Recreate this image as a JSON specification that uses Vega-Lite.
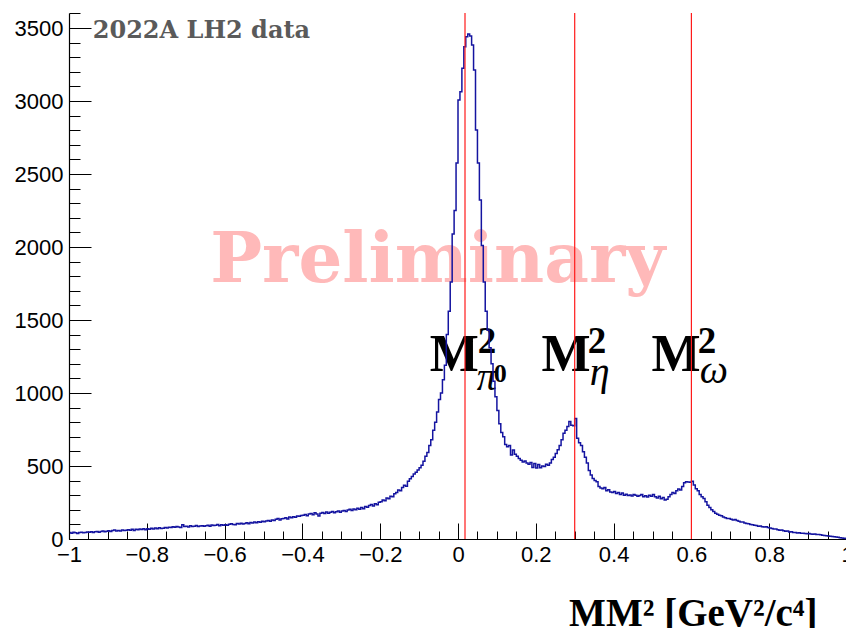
{
"$schema": "https://vega.github.io/schema/vega-lite/v6.json",
"width": 778, "height": 526,
"autosize": "none",
"padding": {"left": 69, "top": 13, "right": 0, "bottom": 89},
"background": "white",
"config": {"view": {"stroke": null}, "axis": {"grid": false}},
"resolve": {"axis": {"x": "independent", "y": "independent"}},
"layer": [
{
"data": {"values": [{"t": "Preliminary", "x": -0.052, "y": 1760}]},
"mark": {"type": "text", "font": "DejaVu Serif", "fontWeight": "bold", "fontSize": 69, "fill": "#ffb9b9", "align": "center", "baseline": "alphabetic"},
"encoding": {
"x": {"field": "x", "type": "quantitative", "scale": {"domain": [-1, 1], "nice": false, "zero": false}, "axis": null},
"y": {"field": "y", "type": "quantitative", "scale": {"domain": [0, 3603], "nice": false}, "axis": {"orient": "left", "values": [0,100,200,300,400,500,600,700,800,900,1000,1100,1200,1300,1400,1500,1600,1700,1800,1900,2000,2100,2200,2300,2400,2500,2600,2700,2800,2900,3000,3100,3200,3300,3400,3500,3600], "labels": false, "domain": false, "tickSize": -11, "tickColor": "#000000", "tickWidth": 1, "title": null}},
"text": {"field": "t"}
}
},
{
"data": {"values": [{"t": "M", "x": -0.0728, "y": 1151}, {"t": "M", "x": 0.2144, "y": 1151}, {"t": "M", "x": 0.4972, "y": 1151}]},
"mark": {"type": "text", "font": "Liberation Serif", "fontWeight": "bold", "fontSize": 52, "fill": "#000000", "align": "left", "baseline": "alphabetic"},
"encoding": {
"x": {"field": "x", "type": "quantitative", "axis": null},
"y": {"field": "y", "type": "quantitative", "axis": null},
"text": {"field": "t"}
}
},
{
"data": {"values": [{"t": "2", "x": 0.0506, "y": 1274}, {"t": "2", "x": 0.3334, "y": 1274}, {"t": "2", "x": 0.6162, "y": 1274}]},
"mark": {"type": "text", "font": "Liberation Serif", "fontWeight": "bold", "fontSize": 37, "fill": "#000000", "align": "left", "baseline": "alphabetic"},
"encoding": {
"x": {"field": "x", "type": "quantitative", "axis": null},
"y": {"field": "y", "type": "quantitative", "axis": null},
"text": {"field": "t"}
}
},
{
"data": {"values": [{"t": "π", "x": 0.048, "y": 1021}, {"t": "η", "x": 0.3386, "y": 1055}, {"t": "ω", "x": 0.6213, "y": 1069}]},
"mark": {"type": "text", "font": "Liberation Serif", "fontStyle": "italic", "fontSize": 40, "fill": "#000000", "align": "left", "baseline": "alphabetic"},
"encoding": {
"x": {"field": "x", "type": "quantitative", "axis": null},
"y": {"field": "y", "type": "quantitative", "axis": null},
"text": {"field": "t"}
}
},
{
"data": {"values": [{"t": "0", "x": 0.0918, "y": 1075}]},
"mark": {"type": "text", "font": "Liberation Serif", "fontWeight": "bold", "fontSize": 26, "fill": "#000000", "align": "left", "baseline": "alphabetic"},
"encoding": {
"x": {"field": "x", "type": "quantitative", "axis": null},
"y": {"field": "y", "type": "quantitative", "axis": null},
"text": {"field": "t"}
}
},
{
"data": {"values": [
{"m":-0.9975,"n":44},{"m":-0.9925,"n":40},{"m":-0.9875,"n":46},{"m":-0.9825,"n":43},{"m":-0.9775,"n":38},{"m":-0.9725,"n":45},{"m":-0.9675,"n":47},{"m":-0.9625,"n":42},{"m":-0.9575,"n":44},{"m":-0.9525,"n":48},
{"m":-0.9475,"n":46},{"m":-0.9425,"n":50},{"m":-0.9375,"n":44},{"m":-0.9325,"n":49},{"m":-0.9275,"n":52},{"m":-0.9225,"n":47},{"m":-0.9175,"n":51},{"m":-0.9125,"n":55},{"m":-0.9075,"n":49},{"m":-0.9025,"n":53},
{"m":-0.8975,"n":57},{"m":-0.8925,"n":52},{"m":-0.8875,"n":58},{"m":-0.8825,"n":61},{"m":-0.8775,"n":55},{"m":-0.8725,"n":59},{"m":-0.8675,"n":54},{"m":-0.8625,"n":62},{"m":-0.8575,"n":58},{"m":-0.8525,"n":60},
{"m":-0.8475,"n":64},{"m":-0.8425,"n":60},{"m":-0.8375,"n":66},{"m":-0.8325,"n":58},{"m":-0.8275,"n":67},{"m":-0.8225,"n":63},{"m":-0.8175,"n":69},{"m":-0.8125,"n":65},{"m":-0.8075,"n":70},{"m":-0.8025,"n":64},
{"m":-0.7975,"n":71},{"m":-0.7925,"n":66},{"m":-0.7875,"n":73},{"m":-0.7825,"n":69},{"m":-0.7775,"n":75},{"m":-0.7725,"n":70},{"m":-0.7675,"n":77},{"m":-0.7625,"n":72},{"m":-0.7575,"n":74},{"m":-0.7525,"n":79},
{"m":-0.7475,"n":76},{"m":-0.7425,"n":81},{"m":-0.7375,"n":78},{"m":-0.7325,"n":84},{"m":-0.7275,"n":80},{"m":-0.7225,"n":86},{"m":-0.7175,"n":82},{"m":-0.7125,"n":79},{"m":-0.7075,"n":98},{"m":-0.7025,"n":85},
{"m":-0.6975,"n":87},{"m":-0.6925,"n":83},{"m":-0.6875,"n":90},{"m":-0.6825,"n":86},{"m":-0.6775,"n":88},{"m":-0.6725,"n":92},{"m":-0.6675,"n":85},{"m":-0.6625,"n":89},{"m":-0.6575,"n":91},{"m":-0.6525,"n":87},
{"m":-0.6475,"n":90},{"m":-0.6425,"n":94},{"m":-0.6375,"n":88},{"m":-0.6325,"n":96},{"m":-0.6275,"n":92},{"m":-0.6225,"n":95},{"m":-0.6175,"n":99},{"m":-0.6125,"n":91},{"m":-0.6075,"n":97},{"m":-0.6025,"n":94},
{"m":-0.5975,"n":98},{"m":-0.5925,"n":95},{"m":-0.5875,"n":101},{"m":-0.5825,"n":104},{"m":-0.5775,"n":99},{"m":-0.5725,"n":97},{"m":-0.5675,"n":106},{"m":-0.5625,"n":102},{"m":-0.5575,"n":108},{"m":-0.5525,"n":103},
{"m":-0.5475,"n":107},{"m":-0.5425,"n":111},{"m":-0.5375,"n":105},{"m":-0.5325,"n":113},{"m":-0.5275,"n":110},{"m":-0.5225,"n":116},{"m":-0.5175,"n":112},{"m":-0.5125,"n":118},{"m":-0.5075,"n":114},{"m":-0.5025,"n":121},
{"m":-0.4975,"n":119},{"m":-0.4925,"n":124},{"m":-0.4875,"n":127},{"m":-0.4825,"n":122},{"m":-0.4775,"n":131},{"m":-0.4725,"n":126},{"m":-0.4675,"n":136},{"m":-0.4625,"n":141},{"m":-0.4575,"n":130},{"m":-0.4525,"n":138},
{"m":-0.4475,"n":140},{"m":-0.4425,"n":145},{"m":-0.4375,"n":137},{"m":-0.4325,"n":150},{"m":-0.4275,"n":146},{"m":-0.4225,"n":153},{"m":-0.4175,"n":149},{"m":-0.4125,"n":158},{"m":-0.4075,"n":155},{"m":-0.4025,"n":161},
{"m":-0.3975,"n":163},{"m":-0.3925,"n":168},{"m":-0.3875,"n":160},{"m":-0.3825,"n":171},{"m":-0.3775,"n":175},{"m":-0.3725,"n":166},{"m":-0.3675,"n":179},{"m":-0.3625,"n":172},{"m":-0.3575,"n":158},{"m":-0.3525,"n":176},
{"m":-0.3475,"n":181},{"m":-0.3425,"n":174},{"m":-0.3375,"n":185},{"m":-0.3325,"n":177},{"m":-0.3275,"n":183},{"m":-0.3225,"n":188},{"m":-0.3175,"n":180},{"m":-0.3125,"n":186},{"m":-0.3075,"n":192},{"m":-0.3025,"n":184},
{"m":-0.2975,"n":191},{"m":-0.2925,"n":196},{"m":-0.2875,"n":188},{"m":-0.2825,"n":199},{"m":-0.2775,"n":203},{"m":-0.2725,"n":195},{"m":-0.2675,"n":206},{"m":-0.2625,"n":201},{"m":-0.2575,"n":210},{"m":-0.2525,"n":204},
{"m":-0.2475,"n":215},{"m":-0.2425,"n":208},{"m":-0.2375,"n":222},{"m":-0.2325,"n":218},{"m":-0.2275,"n":229},{"m":-0.2225,"n":236},{"m":-0.2175,"n":226},{"m":-0.2125,"n":241},{"m":-0.2075,"n":235},{"m":-0.2025,"n":252},
{"m":-0.1975,"n":255},{"m":-0.1925,"n":268},{"m":-0.1875,"n":262},{"m":-0.1825,"n":280},{"m":-0.1775,"n":276},{"m":-0.1725,"n":292},{"m":-0.1675,"n":289},{"m":-0.1625,"n":310},{"m":-0.1575,"n":318},{"m":-0.1525,"n":335},
{"m":-0.1475,"n":330},{"m":-0.1425,"n":352},{"m":-0.1375,"n":368},{"m":-0.1325,"n":362},{"m":-0.1275,"n":395},{"m":-0.1225,"n":412},{"m":-0.1175,"n":428},{"m":-0.1125,"n":445},{"m":-0.1075,"n":458},{"m":-0.1025,"n":472},
{"m":-0.0975,"n":488},{"m":-0.0925,"n":505},{"m":-0.0875,"n":532},{"m":-0.0825,"n":566},{"m":-0.0775,"n":592},{"m":-0.0725,"n":640},{"m":-0.0675,"n":680},{"m":-0.0625,"n":745},{"m":-0.0575,"n":800},{"m":-0.0525,"n":870},
{"m":-0.0475,"n":955},{"m":-0.0425,"n":1000},{"m":-0.0375,"n":1090},{"m":-0.0325,"n":1190},{"m":-0.0275,"n":1400},{"m":-0.0225,"n":1560},{"m":-0.0175,"n":1760},{"m":-0.0125,"n":2090},{"m":-0.0075,"n":2250},{"m":-0.0025,"n":2575},
{"m":0.0025,"n":3007},{"m":0.0075,"n":3064},{"m":0.0125,"n":3224},{"m":0.0175,"n":3372},{"m":0.0225,"n":3441},{"m":0.0275,"n":3459},{"m":0.0325,"n":3445},{"m":0.0375,"n":3384},{"m":0.0425,"n":3213},{"m":0.0475,"n":2802},
{"m":0.0525,"n":2575},{"m":0.0575,"n":2322},{"m":0.0625,"n":2010},{"m":0.0675,"n":1760},{"m":0.0725,"n":1560},{"m":0.0775,"n":1430},{"m":0.0825,"n":1310},{"m":0.0875,"n":1200},{"m":0.0925,"n":1080},{"m":0.0975,"n":975},
{"m":0.1025,"n":880},{"m":0.1075,"n":790},{"m":0.1125,"n":730},{"m":0.1175,"n":700},{"m":0.1225,"n":648},{"m":0.1275,"n":632},{"m":0.1325,"n":640},{"m":0.1375,"n":575},{"m":0.1425,"n":610},{"m":0.1475,"n":580},
{"m":0.1525,"n":566},{"m":0.1575,"n":552},{"m":0.1625,"n":540},{"m":0.1675,"n":528},{"m":0.1725,"n":535},{"m":0.1775,"n":520},{"m":0.1825,"n":512},{"m":0.1875,"n":524},{"m":0.1925,"n":490},{"m":0.1975,"n":518},
{"m":0.2025,"n":486},{"m":0.2075,"n":510},{"m":0.2125,"n":488},{"m":0.2175,"n":500},{"m":0.2225,"n":496},{"m":0.2275,"n":512},{"m":0.2325,"n":505},{"m":0.2375,"n":520},{"m":0.2425,"n":545},{"m":0.2475,"n":560},
{"m":0.2525,"n":585},{"m":0.2575,"n":612},{"m":0.2625,"n":640},{"m":0.2675,"n":680},{"m":0.2725,"n":725},{"m":0.2775,"n":745},{"m":0.2825,"n":770},{"m":0.2875,"n":805},{"m":0.2925,"n":780},{"m":0.2975,"n":775},
{"m":0.3025,"n":826},{"m":0.3075,"n":690},{"m":0.3125,"n":660},{"m":0.3175,"n":640},{"m":0.3225,"n":598},{"m":0.3275,"n":560},{"m":0.3325,"n":520},{"m":0.3375,"n":470},{"m":0.3425,"n":438},{"m":0.3475,"n":415},
{"m":0.3525,"n":400},{"m":0.3575,"n":392},{"m":0.3625,"n":360},{"m":0.3675,"n":350},{"m":0.3725,"n":345},{"m":0.3775,"n":352},{"m":0.3825,"n":330},{"m":0.3875,"n":338},{"m":0.3925,"n":322},{"m":0.3975,"n":318},
{"m":0.4025,"n":325},{"m":0.4075,"n":312},{"m":0.4125,"n":318},{"m":0.4175,"n":305},{"m":0.4225,"n":315},{"m":0.4275,"n":300},{"m":0.4325,"n":306},{"m":0.4375,"n":298},{"m":0.4425,"n":302},{"m":0.4475,"n":295},
{"m":0.4525,"n":304},{"m":0.4575,"n":300},{"m":0.4625,"n":292},{"m":0.4675,"n":298},{"m":0.4725,"n":305},{"m":0.4775,"n":290},{"m":0.4825,"n":296},{"m":0.4875,"n":288},{"m":0.4925,"n":300},{"m":0.4975,"n":292},
{"m":0.5025,"n":304},{"m":0.5075,"n":290},{"m":0.5125,"n":280},{"m":0.5175,"n":292},{"m":0.5225,"n":276},{"m":0.5275,"n":284},{"m":0.5325,"n":268},{"m":0.5375,"n":272},{"m":0.5425,"n":290},{"m":0.5475,"n":305},
{"m":0.5525,"n":318},{"m":0.5575,"n":312},{"m":0.5625,"n":330},{"m":0.5675,"n":342},{"m":0.5725,"n":335},{"m":0.5775,"n":360},{"m":0.5825,"n":385},{"m":0.5875,"n":392},{"m":0.5925,"n":390},{"m":0.5975,"n":388},
{"m":0.6025,"n":395},{"m":0.6075,"n":370},{"m":0.6125,"n":345},{"m":0.6175,"n":330},{"m":0.6225,"n":305},{"m":0.6275,"n":290},{"m":0.6325,"n":278},{"m":0.6375,"n":255},{"m":0.6425,"n":232},{"m":0.6475,"n":215},
{"m":0.6525,"n":200},{"m":0.6575,"n":188},{"m":0.6625,"n":176},{"m":0.6675,"n":170},{"m":0.6725,"n":162},{"m":0.6775,"n":160},{"m":0.6825,"n":150},{"m":0.6875,"n":146},{"m":0.6925,"n":140},{"m":0.6975,"n":141},
{"m":0.7025,"n":135},{"m":0.7075,"n":130},{"m":0.7125,"n":134},{"m":0.7175,"n":126},{"m":0.7225,"n":122},{"m":0.7275,"n":116},{"m":0.7325,"n":117},{"m":0.7375,"n":110},{"m":0.7425,"n":106},{"m":0.7475,"n":104},
{"m":0.7525,"n":100},{"m":0.7575,"n":98},{"m":0.7625,"n":94},{"m":0.7675,"n":92},{"m":0.7725,"n":88},{"m":0.7775,"n":89},{"m":0.7825,"n":84},{"m":0.7875,"n":82},{"m":0.7925,"n":84},{"m":0.7975,"n":78},
{"m":0.8025,"n":76},{"m":0.8075,"n":72},{"m":0.8125,"n":68},{"m":0.8175,"n":69},{"m":0.8225,"n":64},{"m":0.8275,"n":60},{"m":0.8325,"n":61},{"m":0.8375,"n":56},{"m":0.8425,"n":53},{"m":0.8475,"n":55},
{"m":0.8525,"n":48},{"m":0.8575,"n":50},{"m":0.8625,"n":45},{"m":0.8675,"n":44},{"m":0.8725,"n":41},{"m":0.8775,"n":42},{"m":0.8825,"n":39},{"m":0.8875,"n":40},{"m":0.8925,"n":37},{"m":0.8975,"n":36},
{"m":0.9025,"n":38},{"m":0.9075,"n":35},{"m":0.9125,"n":33},{"m":0.9175,"n":34},{"m":0.9225,"n":31},{"m":0.9275,"n":30},{"m":0.9325,"n":29},{"m":0.9375,"n":26},{"m":0.9425,"n":24},{"m":0.9475,"n":23},
{"m":0.9525,"n":20},{"m":0.9575,"n":18},{"m":0.9625,"n":17},{"m":0.9675,"n":15},{"m":0.9725,"n":14},{"m":0.9775,"n":12},{"m":0.9825,"n":9},{"m":0.9875,"n":7},{"m":0.9925,"n":5},{"m":0.9975,"n":3}
]},
"mark": {"type": "line", "interpolate": "step", "stroke": "#1414a0", "strokeWidth": 1.5},
"encoding": {
"x": {"field": "m", "type": "quantitative", "axis": {"orient": "bottom", "values": [-1,-0.8,-0.6,-0.4,-0.2,0,0.2,0.4,0.6,0.8,1], "format": "~g", "labelFont": "Liberation Sans", "labelFontSize": 22, "labelColor": "#000000", "labelFlush": false, "labelOverlap": false, "labelPadding": 21, "tickSize": -16, "tickColor": "#000000", "tickWidth": 1, "domainColor": "#000000", "domainWidth": 1.2, "title": "MM² [GeV²/c⁴]", "titleFont": "Liberation Serif", "titleFontSize": 39, "titleFontWeight": "bold", "titleColor": "#000000", "titleAlign": "right", "titleBaseline": "alphabetic", "titleX": 748, "titleY": 86}},
"y": {"field": "n", "type": "quantitative", "axis": {"orient": "left", "values": [0,500,1000,1500,2000,2500,3000,3500], "format": "d", "labelFont": "Liberation Sans", "labelFontSize": 22, "labelColor": "#000000", "labelPadding": 28, "tickSize": -22, "tickColor": "#000000", "tickWidth": 1, "domainColor": "#000000", "domainWidth": 1.2, "title": null}}
}
},
{
"data": {"values": [{"m": 0.018}, {"m": 0.3}, {"m": 0.6}]},
"mark": {"type": "rule", "stroke": "#ff1a1a", "strokeWidth": 1.2},
"encoding": {
"x": {"field": "m", "type": "quantitative", "axis": {"orient": "bottom", "values": [-1,-0.95,-0.9,-0.85,-0.8,-0.75,-0.7,-0.65,-0.6,-0.55,-0.5,-0.45,-0.4,-0.35,-0.3,-0.25,-0.2,-0.15,-0.1,-0.05,0,0.05,0.1,0.15,0.2,0.25,0.3,0.35,0.4,0.45,0.5,0.55,0.6,0.65,0.7,0.75,0.8,0.85,0.9,0.95,1], "labels": false, "domain": false, "tickSize": -8, "tickColor": "#000000", "tickWidth": 1, "title": null}}
}
},
{
"data": {"values": [{"t": "2022A LH2 data", "x": -0.939, "y": 3432}]},
"mark": {"type": "text", "font": "DejaVu Serif", "fontWeight": "bold", "fontSize": 24, "fill": "#5a5a5a", "align": "left", "baseline": "alphabetic"},
"encoding": {
"x": {"field": "x", "type": "quantitative", "axis": null},
"y": {"field": "y", "type": "quantitative", "axis": null},
"text": {"field": "t"}
}
}
]
}
